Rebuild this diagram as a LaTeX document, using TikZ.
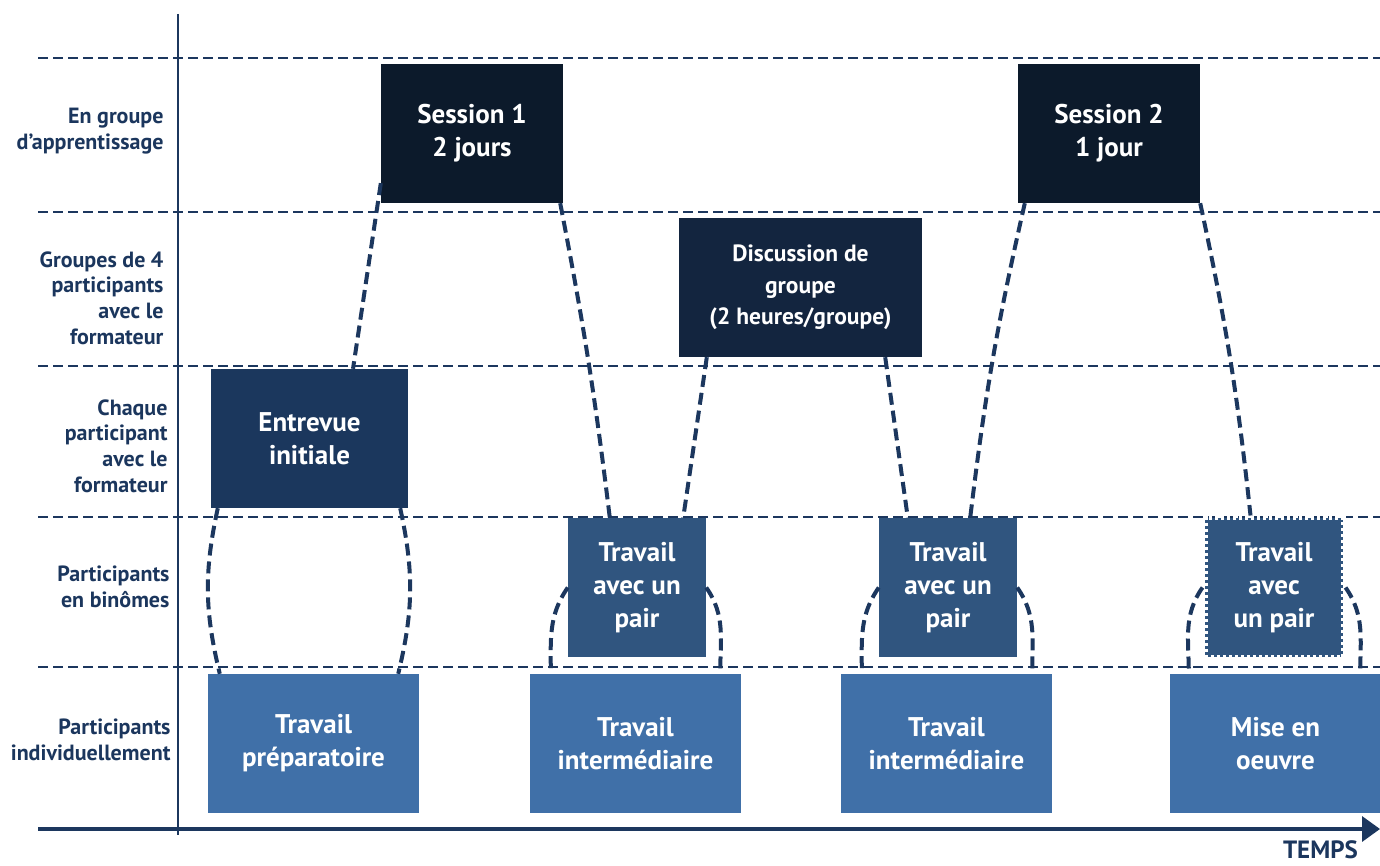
\documentclass[tikz,border=0pt]{standalone}
\usepackage{fontspec}
\setmainfont{PT Sans}
\usepackage{tikz}
\usetikzlibrary{arrows.meta,positioning,calc}
\definecolor{sessfill}{HTML}{0C1A2B}
\definecolor{discfill}{HTML}{13253F}
\definecolor{entrfill}{HTML}{1B375D}
\definecolor{pairfill}{HTML}{30557F}
\definecolor{indivfill}{HTML}{4070A8}
\definecolor{labeltext}{HTML}{1B365D}
\definecolor{linkcol}{HTML}{1C375E}
\tikzset{
  box/.style={inner sep=0pt, minimum height=139pt, align=center, text=white,
              font=\bfseries\fontsize{27}{33}\selectfont},
  sess/.style={box, fill=sessfill, minimum width=182pt},
  discbox/.style={box, fill=discfill, minimum width=243pt,
              font=\bfseries\fontsize{23.5}{31.5}\selectfont},
  entrbox/.style={box, fill=entrfill, minimum width=197pt},
  pair/.style={box, fill=pairfill, minimum width=138pt},
  indiv/.style={box, fill=indivfill, minimum width=211pt},
  rowlabel/.style={anchor=east, align=right, text=labeltext,
              font=\bfseries\fontsize{22}{25.7}\selectfont},
  rowline/.style={draw=linkcol, line width=2.5pt, dash pattern=on 10pt off 5pt},
  link/.style={draw=linkcol, line width=4pt, dash pattern=on 12pt off 6pt},
  timeline/.style={draw=linkcol, line width=3.5pt, -{Triangle[length=18pt,width=25pt]}}
}
\begin{document}
\begin{tikzpicture}[x=1pt, y=1pt]
  \useasboundingbox (0,0) rectangle (1380,865);

  % rows
  \draw[rowline] (38,807) -- (1380,807);
  \draw[rowline] (38,653) -- (1380,653);
  \draw[rowline] (38,499) -- (1380,499);
  \draw[rowline] (38,348) -- (1380,348);
  \draw[rowline] (38,198) -- (1380,198);

  % axes
  \coordinate (axtop) at (178,851);
  \coordinate (axbot) at (178,30);
  \draw[draw=linkcol, line width=2pt] (axtop) -- (axbot);
  \coordinate (tstart) at (38,36);
  \coordinate (tend) at (1380,36);
  \draw[timeline] (tstart) -- (tend);
  \node[anchor=base east, text=labeltext, font=\bfseries\fontsize{25}{28}\selectfont,
        inner sep=0pt] (temps) at (1358,7) {TEMPS};

  % row labels
  \node[rowlabel] (lab1) at (167,734) {En groupe\\d'apprentissage};
  \node[rowlabel] (lab2) at (167,567) {Groupes de 4\\participants\\avec le\\formateur};
  \node[rowlabel] (lab3) at (171,419) {Chaque\\participant\\avec le\\formateur};
  \node[rowlabel] (lab4) at (173,278) {Participants\\en binômes};
  \node[rowlabel] (lab5) at (174,125) {Participants\\individuellement};

  % activities
  \node[sess] (sess1) at (472,731.5) {Session 1\\2 jours};
  \node[sess] (sess2) at (1109,731.5) {Session 2\\1 jour};
  \node[discbox] (disc) at (800.5,577.5) {Discussion de\\groupe\\(2 heures/groupe)};
  \node[entrbox] (entr) at (309.5,426.5) {Entrevue\\initiale};
  \node[pair] (pair1) at (637,277.5) {Travail\\avec un\\pair};
  \node[pair] (pair2) at (948,277.5) {Travail\\avec un\\pair};
  \node[pair, draw=white, line width=5pt, dash pattern=on 3pt off 3pt]
        (pair3) at (1274,277.5) {Travail\\avec\\un pair};
  \node[indiv] (prep) at (313.5,121.5) {Travail\\préparatoire};
  \node[indiv] (inter1) at (635.5,121.5) {Travail\\intermédiaire};
  \node[indiv] (inter2) at (946.5,121.5) {Travail\\intermédiaire};
  \node[indiv] (mise) at (1275.5,121.5) {Mise en\\oeuvre};

  % links between levels
  \draw[link] ($(sess1.south west)+(0,20)$) -- ($(entr.north)+(43.5,0)$);
  \draw[link] ($(sess1.south east)+(-3,0)$) to[bend left=2] ($(pair1.north west)+(42,0)$);
  \draw[link] ($(disc.south west)+(28,0)$) -- ($(pair1.north east)+(-23,0)$);
  \draw[link] ($(disc.south east)+(-37,0)$) -- ($(pair2.north west)+(29,0)$);
  \draw[link] ($(sess2.south west)+(7,0)$) to[bend right=3] ($(pair2.north east)+(-47,0)$);
  \draw[link] (sess2.south east) to[bend left=3] ($(pair3.north west)+(48,0)$);
  \draw[link] ($(entr.south west)+(7,0)$) to[bend right=13] ($(prep.north west)+(12,0)$);
  \draw[link] ($(entr.south east)+(-8,0)$) to[bend left=13] ($(prep.north east)+(-21,0)$);
  \draw[link] (pair1.west) to[out=235,in=90] ($(inter1.north west)+(21,0)$);
  \draw[link] (pair1.east) to[out=-55,in=90] ($(inter1.north east)+(-21,0)$);
  \draw[link] (pair2.west) to[out=235,in=90] ($(inter2.north west)+(21,0)$);
  \draw[link] (pair2.east) to[out=-55,in=90] ($(inter2.north east)+(-20,0)$);
  \draw[link] (pair3.west) to[out=235,in=90] ($(mise.north west)+(19,0)$);
  \draw[link] (pair3.east) to[out=-55,in=90] ($(mise.north east)+(-21,0)$);
\end{tikzpicture}
\end{document}
